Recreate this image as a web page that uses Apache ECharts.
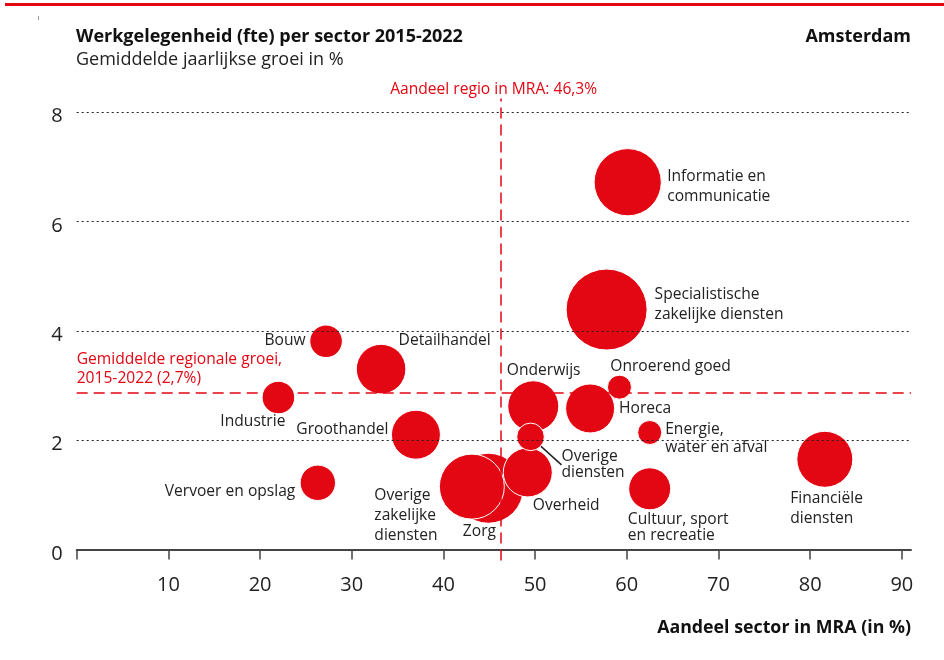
<!DOCTYPE html>
<html>
<head>
<meta charset="utf-8">
<title>Werkgelegenheid per sector</title>
<script src="https://cdn.jsdelivr.net/npm/echarts@6/dist/echarts.min.js"></script>
<style>
  html, body { margin: 0; padding: 0; background: #fff; }
  #chart { width: 944px; height: 660px; }
</style>
</head>
<body>
<div id="chart"></div>
<script>
// sectoren (volgorde = tekenvolgorde, kleine bollen bovenop)
const sectors = [
  'Informatie en\ncommunicatie',
  'Specialistische\nzakelijke diensten',
  'Bouw',
  'Detailhandel',
  'Industrie',
  'Groothandel',
  'Vervoer en opslag',
  'Zorg',
  'Overige\nzakelijke\ndiensten',
  'Overheid',
  'Onderwijs',
  'Overige\ndiensten',
  'Horeca',
  'Onroerend goed',
  'Energie,\nwater en afval',
  'Cultuur, sport\nen recreatie',
  'Financiële\ndiensten'
];
// aandeel sector in MRA (%)
const aandeel = [60.1, 57.8, 27.2, 33.2, 22.0, 37.0, 26.3, 44.9, 43.1, 49.2, 49.8, 49.5, 56.0, 59.2, 62.5, 62.5, 81.6];
// gemiddelde jaarlijkse groei (%)
const groei = [6.72, 4.39, 3.81, 3.30, 2.78, 2.10, 1.22, 1.12, 1.15, 1.41, 2.62, 2.06, 2.58, 2.97, 2.14, 1.11, 1.65];
// omvang werkgelegenheid (relatief, bepaalt oppervlak bol)
const omvang = [1129, 1640, 266, 615, 266, 600, 313, 1225, 1056, 600, 650, 190, 600, 144, 144, 441, 784];

const xTicks = [0, 10, 20, 30, 40, 50, 60, 70, 80, 90];
const xLabels = [10, 20, 30, 40, 50, 60, 70, 80, 90];
const yTicks = [0, 2, 4, 6, 8];
const regioAandeel = 46.3;
const regioGroeiPos = 2.87; // plek van de lijn zoals getekend
const regioGroeiText = 'Gemiddelde regionale groei,\n2015-2022 (2,7%)';
const regioAandeelText = 'Aandeel regio in MRA: 46,3%';

// label layout: [dx, dy, align, lineHeight] t.o.v. middelpunt bol
const labelLayout = [
  [40, 4.5, 'left', 20],
  [48.5, -5, 'left', 20],
  [-20, 0, 'right', 20],
  [18, -28, 'left', 20],
  [-25, 25, 'center', 20],
  [-27, -4.5, 'right', 20],
  [-22, 9, 'right', 20],
  [-25, 44, 'left', 20],
  [-97, 29, 'left', 20],
  [5.5, 33.4, 'left', 20],
  [-26, -35, 'left', 20],
  [31.5, 28.5, 'left', 16],
  [29.5, 1, 'left', 20],
  [-8.7, -20.3, 'left', 20],
  [16, 7, 'left', 18],
  [-21.4, 39, 'left', 16],
  [-34, 49.7, 'left', 20]
];

const RED = '#e30613';
const TEXT = '#222';
const FONT = 'Open Sans';
const sizeOf = v => Math.sqrt(v) * 2;

const bubbles = sectors.map((name, i) => {
  const r = sizeOf(omvang[i]) / 2;
  const l = labelLayout[i];
  const item = {
    name: name,
    value: [aandeel[i], groei[i], omvang[i]],
    label: {
      position: [r + l[0], r + l[1]],
      align: l[2],
      verticalAlign: 'middle',
      lineHeight: l[3]
    }
  };
  if (name === 'Overige\ndiensten') {
    item.labelLine = { show: true, lineStyle: { color: TEXT, width: 1.5 } };
  }
  return item;
});

const chart = echarts.init(document.getElementById('chart'));

chart.setOption({
  animation: false,
  textStyle: { fontFamily: FONT },
  title: [
    { text: 'Werkgelegenheid (fte) per sector 2015-2022', left: 76, top: 27, padding: 0,
      textStyle: { fontFamily: FONT, fontSize: 18, fontWeight: 'bold', color: '#111', lineHeight: 20 } },
    { text: 'Gemiddelde jaarlijkse groei in %', left: 76, top: 50, padding: 0,
      textStyle: { fontFamily: FONT, fontSize: 18, fontWeight: 'normal', color: TEXT, lineHeight: 20 } },
    { text: 'Amsterdam', right: 33, top: 27, padding: 0,
      textStyle: { fontFamily: FONT, fontSize: 18, fontWeight: 'bold', color: '#111', lineHeight: 20 } },
    { text: 'Aandeel sector in MRA (in %)', right: 33, top: 618, padding: 0,
      textStyle: { fontFamily: FONT, fontSize: 17.8, fontWeight: 'bold', color: '#111', lineHeight: 20 } }
  ],
  graphic: [
    { type: 'rect', shape: { x: 5, y: 3, width: 939, height: 3 }, style: { fill: RED } },
    { type: 'rect', shape: { x: 38, y: 16, width: 1, height: 4 }, style: { fill: '#999' } }
  ],
  grid: { left: 76.7, right: 33, top: 98.6, bottom: 99.6 },
  xAxis: {
    type: 'value',
    min: 0,
    max: 91,
    axisLine: { show: true, onZero: true, lineStyle: { color: '#444', width: 2 } },
    axisTick: { show: true, length: 10, customValues: xTicks, lineStyle: { color: '#444', width: 1.5 } },
    axisLabel: { customValues: xLabels, margin: 15, fontSize: 20, color: TEXT, fontFamily: FONT },
    splitLine: { show: false }
  },
  yAxis: {
    type: 'value',
    min: -0.2,
    max: 8.25,
    axisLine: { show: false },
    axisTick: { show: false },
    axisLabel: { customValues: yTicks, margin: 14, fontSize: 20, color: TEXT, fontFamily: FONT, verticalAlign: 'top', lineHeight: 9 },
    splitLine: { show: false }
  },
  series: [
    {
      // stippel-rasterlijnen
      type: 'scatter',
      data: [],
      z: 1,
      silent: true,
      markLine: {
        silent: true,
        symbol: ['none', 'none'],
        label: { show: false },
        lineStyle: { color: '#222', type: [2, 3], width: 1.2 },
        data: yTicks.filter(v => v > 0).map(v => ({ yAxis: v }))
      }
    },
    {
      // rode referentielijnen
      type: 'scatter',
      data: [],
      z: 2,
      silent: true,
      markLine: {
        silent: true,
        symbol: ['none', 'none'],
        lineStyle: { color: RED, type: [11, 6], width: 1.5 },
        data: [
          {
            yAxis: regioGroeiPos,
            label: {
              show: true,
              formatter: regioGroeiText,
              position: 'insideStartTop',
              distance: [0, 5],
              color: RED,
              fontSize: 15.6,
              lineHeight: 19,
              fontFamily: FONT
            }
          },
          {
            xAxis: regioAandeel,
            label: {
              show: true,
              formatter: regioAandeelText,
              position: 'end',
              distance: 1,
              padding: [0, 15, 0, 0],
              color: RED,
              fontSize: 15.6,
              fontFamily: FONT
            }
          }
        ]
      }
    },
    {
      type: 'scatter',
      z: 3,
      data: bubbles,
      symbolSize: v => sizeOf(v[2]),
      itemStyle: { color: RED, opacity: 1, borderColor: '#fff', borderWidth: 1 },
      label: {
        show: true,
        formatter: p => p.name,
        color: TEXT,
        fontSize: 15.6,
        fontFamily: FONT
      },
      emphasis: { disabled: true }
    }
  ]
});
</script>
</body>
</html>
